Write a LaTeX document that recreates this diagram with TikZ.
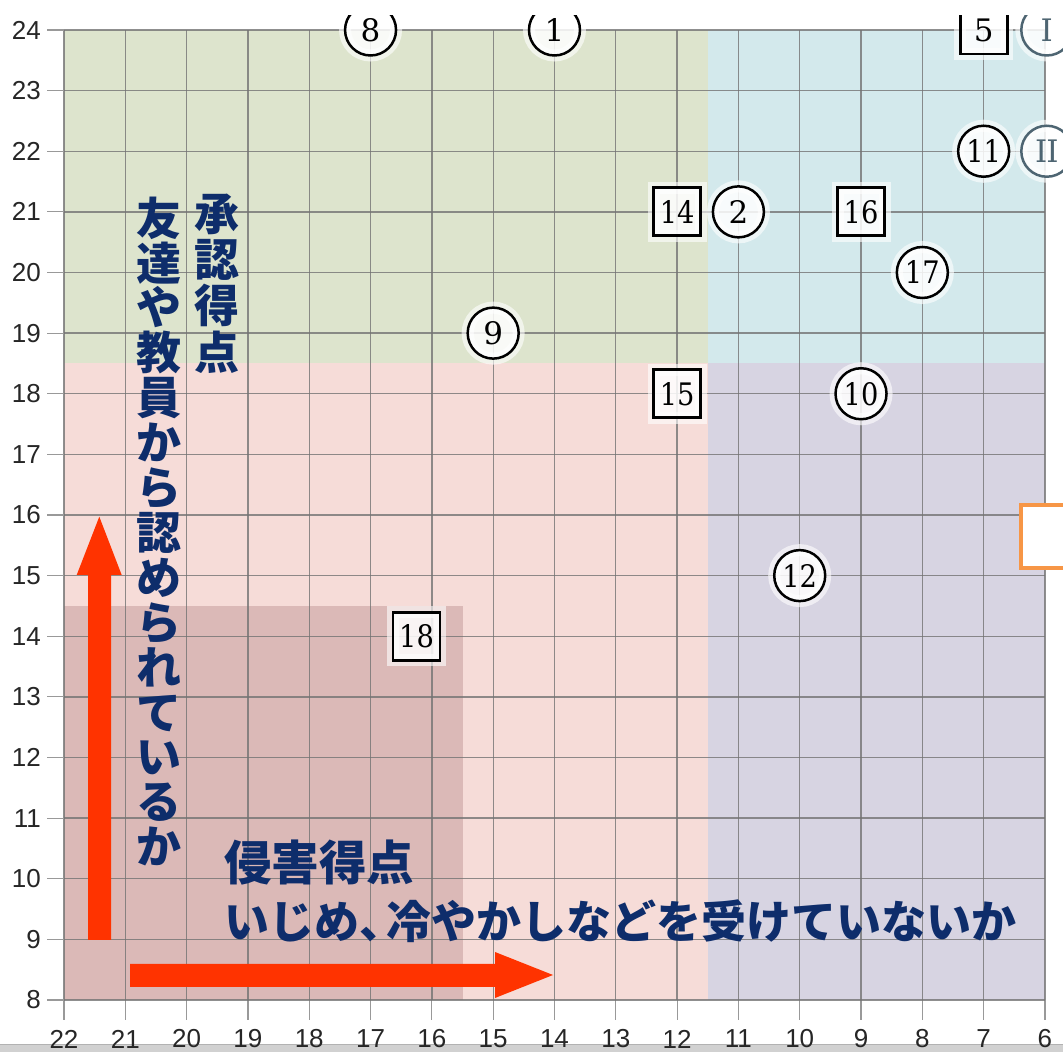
\documentclass[tikz,border=0pt]{standalone}
\usepackage{fontspec}
\usepackage{graphicx}
\newfontfamily\jp{Noto Sans CJK JP}
\newfontfamily\axisfont{Liberation Sans}
\newfontfamily\markserif{DejaVu Serif}
\definecolor{bggreen}{HTML}{DDE4CD}
\definecolor{bgblue}{HTML}{D3E9EC}
\definecolor{bgpink}{HTML}{F6DCD8}
\definecolor{bglav}{HTML}{D7D4E2}
\definecolor{bgrose}{HTML}{DBB9B7}
\definecolor{arrowred}{HTML}{FF3300}
\definecolor{navy}{HTML}{0E2D6B}
\definecolor{romancol}{HTML}{4E6572}
\definecolor{obox}{HTML}{F79646}
\newcommand\twodig[1]{\scalebox{0.88}[1]{#1}}
\tikzset{
  gridline/.style={draw=black!55, line width=1.3pt, opacity=0.8},
  tickline/.style={draw=black!40, line width=1.2pt},
  axlab/.style={font={\axisfont\fontsize{26pt}{26pt}\selectfont}, text=black!85, inner sep=0pt},
  halo/.style={preaction={draw=white, draw opacity=0.6, line width=12pt}},
  mcirc/.style={circle, draw=black, line width=2.5pt, fill=white, fill opacity=0.85, text opacity=1,
    minimum size=51pt, inner sep=0pt, halo, font={\markserif\fontsize{31pt}{31pt}\selectfont}},
  rcirc/.style={mcirc, draw=romancol, text=romancol},
  mbox/.style={rectangle, draw=black, line width=2.8pt, fill=white, fill opacity=0.85, text opacity=1,
    minimum width=47pt, minimum height=48pt, inner sep=0pt, halo, font={\markserif\fontsize{31pt}{31pt}\selectfont}},
  jpv/.style={text=navy, align=center, inner sep=0pt},
  jph/.style={text=navy, inner sep=0pt, anchor=west},
  datascope/.style={shift={(1412.82pt,-433pt)}, x={(-61.31pt,0pt)}, y={(0pt,60.625pt)}},
  pixscope/.style={shift={(0pt,1052pt)}, x={(1pt,0pt)}, y={(0pt,-1pt)}}
}
\begin{document}
\begin{tikzpicture}
\useasboundingbox (0,0) rectangle (1063pt,1052pt);
\clip (0,0) rectangle (1063pt,1052pt);
\fill[white] (0,0) rectangle (1063pt,1052pt);

% bottom grey band
\begin{scope}[pixscope]
  \fill[black!18] (0,1045) rectangle (1063,1052);
  \draw[black!30, line width=1pt] (0,1045) -- (1063,1045);
\end{scope}

\begin{scope}[datascope]
  % quadrant backgrounds
  \fill[bggreen] (22,18.5) rectangle (11.5,24);
  \fill[bgblue]  (11.5,18.5) rectangle (6,24);
  \fill[bgpink]  (22,8) rectangle (11.5,18.5);
  \fill[bglav]   (11.5,8) rectangle (6,18.5);
  \fill[bgrose]  (22,8) rectangle (15.5,14.5);
  % grid
  \foreach \i in {6,...,22} {
    \draw[gridline] (\i,8) -- (\i,24);
    \draw[tickline] (\i,8) -- ++(0pt,-20pt);
    \node[axlab] at ([yshift=-39pt]\i,8) {\i};
  }
  \foreach \j in {8,...,24} {
    \draw[gridline] (22,\j) -- (6,\j);
    \draw[tickline] (22,\j) -- ++(-17pt,0pt);
    \node[axlab, anchor=east] at ([xshift=-23pt]22,\j) {\j};
  }
\end{scope}

% markers
\begin{scope}
  \clip (0,0) rectangle (1063pt,1036pt);
  \begin{scope}[datascope]
    \node[mcirc] (c8)  at (17,24) {8};
    \node[mcirc] (c1)  at (14,24) {1};
    \node[mbox]  (b5)  at (7,24) {5};
    \node[rcirc] (r1)  at (5.97,24) {I};
    \node[mcirc] (c11) at (7,22) {\twodig{11}};
    \node[rcirc] (r2)  at (5.97,22) {I\kern-1pt I};
    \node[mbox]  (b14) at (12,21) {\twodig{14}};
    \node[mcirc] (c2)  at (11,21) {2};
    \node[mbox]  (b16) at (9,21) {\twodig{16}};
    \node[mcirc] (c17) at (8,20) {\twodig{17}};
    \node[mcirc] (c9)  at (15,19) {9};
    \node[mbox]  (b15) at (12,18) {\twodig{15}};
    \node[mcirc] (c10) at (9,18) {\twodig{10}};
    \node[mcirc] (c12) at (10,15) {\twodig{12}};
    \node[mbox]  (b18) at (16.25,14) {\twodig{18}};
  \end{scope}
\end{scope}

\begin{scope}[pixscope]
  % orange box at right edge
  \node[draw=obox, line width=4pt, fill=white, minimum width=70pt, minimum height=63.3pt,
        inner sep=0pt, anchor=north west] (ob) at (1019,502.7) {};
  % red arrows
  \fill[arrowred] (88,940) -- (88,575) -- (76.7,575) -- (99.3,516.7) -- (121.7,575)
                  -- (111,575) -- (111,940) -- cycle;
  \fill[arrowred] (130,964) -- (495,964) -- (495,952) -- (553,975) -- (495,998)
                  -- (495,987) -- (130,987) -- cycle;
  % texts
  \node[jpv, font={\jp\bfseries\fontsize{45pt}{44.9pt}\selectfont}] (vt1) at (159,531.5)
    {友\\達\\や\\教\\員\\か\\ら\\認\\め\\ら\\れ\\て\\い\\る\\か};
  \node[jpv, font={\jp\bfseries\fontsize{45pt}{46.3pt}\selectfont}] (vt2) at (216.7,283.5)
    {承\\認\\得\\点};
  \node[jph, font={\jp\bfseries\fontsize{47.5pt}{47.5pt}\selectfont}] (ht1) at (224,863) {侵害得点};
  \node[jph, font={\jp\bfseries\fontsize{45pt}{45pt}\selectfont}] (ht2) at (224,921)
    {いじめ、\kern-0.4em 冷やかしなどを受けていないか};
\end{scope}
\end{tikzpicture}
\end{document}
